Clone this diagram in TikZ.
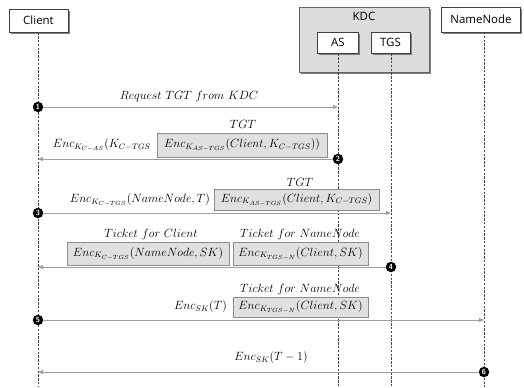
\documentclass[tikz,border=0pt]{standalone}
\usepackage{fontspec}
\newfontfamily\boxfont{Open Sans}
\usetikzlibrary{arrows.meta,shadows}

\definecolor{lineGray}{HTML}{A0A0A0}
\definecolor{lifeGray}{HTML}{454545}
\definecolor{kdcFill}{HTML}{DCDCDC}
\definecolor{tagFill}{HTML}{E0E0E0}
\definecolor{tagLine}{HTML}{8C8C8C}

\tikzset{
  actor/.style={draw=black!75, line width=0.6pt, fill=white, font=\boxfont\fontsize{11.5}{13}\selectfont,
    inner sep=0pt, drop shadow={shadow xshift=1.6bp, shadow yshift=-1.6bp, fill=black!50, opacity=1}},
  kdcbox/.style={draw=black!60, line width=0.6pt, fill=kdcFill, inner sep=0pt,
    drop shadow={shadow xshift=1.6bp, shadow yshift=-1.6bp, fill=black!50, opacity=1}},
  lifeline/.style={draw=lifeGray, dash pattern=on 2.4bp off 1.4bp, line width=0.7pt},
  msg/.style={draw=lineGray, line width=0.8pt, -{Triangle[length=5bp,width=4bp]}},
  marker/.style={circle, fill=black, text=white, inner sep=0pt, minimum size=10.5bp,
    font=\sffamily\bfseries\fontsize{7.5}{8}\selectfont},
  lbl/.style={inner sep=0pt, font=\fontsize{12}{14}\selectfont},
  tag/.style={draw=tagLine, line width=0.6pt, fill=tagFill, inner sep=0pt, font=\fontsize{12}{14}\selectfont},
}

\begin{document}
\begin{tikzpicture}[x=1bp,y=-1bp]
\useasboundingbox (0,0) rectangle (524,387);

% participants
\node[actor, minimum width=59bp, minimum height=23bp] (client) at (38.5,20.5) {Client};
\node[kdcbox, minimum width=130bp, minimum height=65bp] (kdc) at (364,39.5) {};
\node[font=\boxfont\fontsize{11.5}{13}\selectfont, anchor=north] (kdclbl) at (364,8.5) {KDC};
\node[actor, minimum width=41bp, minimum height=21bp] (as) at (338,42.5) {AS};
\node[actor, minimum width=39bp, minimum height=21bp] (tgs) at (390.5,42.5) {TGS};
\node[actor, minimum width=79bp, minimum height=25bp] (nn) at (481,19.5) {NameNode};

% lifelines
\coordinate (clientEnd) at (38,387);
\coordinate (asEnd) at (338,387);
\coordinate (tgsEnd) at (391,387);
\coordinate (nnTop) at (484,32);
\coordinate (nnEnd) at (484,387);
\draw[lifeline] (client.south -| clientEnd) -- (clientEnd);
\draw[lifeline] (as.south) -- (asEnd);
\draw[lifeline] (tgs.south -| tgsEnd) -- (tgsEnd);
\draw[lifeline] (nnTop) -- (nnEnd);

% step markers
\node[marker] (m1) at (38,107) {1};
\node[marker] (m2) at (338,159) {2};
\node[marker] (m3) at (38,213) {3};
\node[marker] (m4) at (391,267) {4};
\node[marker] (m5) at (38,320) {5};
\node[marker] (m6) at (484,372) {6};

\coordinate (e1) at (338,107);
\coordinate (e2) at (38,159);
\coordinate (e3) at (391,213);
\coordinate (e4) at (38,267);
\coordinate (e5) at (484,320);
\coordinate (e6) at (38,372);

% messages
\draw[msg] (m1) -- (e1);
\draw[msg] (m2) -- (e2);
\draw[msg] (m3) -- (e3);
\draw[msg] (m4) -- (e4);
\draw[msg] (m5) -- (e5);
\draw[msg] (m6) -- (e6);

% 1: request
\node[lbl] (t1) at (189,97) {$Request\ TGT\ from\ KDC$};

% 2: reply from AS
\node[lbl, anchor=east] (t2) at (151,145) {$Enc_{K_{C-AS}}(K_{C-TGS}$};
\node[tag, minimum width=170bp, minimum height=24bp] (b2) at (242,145) {$Enc_{K_{AS-TGS}}(Client, K_{C-TGS}))$};
\node[lbl] (h2) at (243,124) {$TGT$};

% 3: request to TGS
\node[lbl, anchor=east] (t3) at (210,200) {$Enc_{K_{C-TGS}}(NameNode, T)$};
\node[tag, minimum width=165bp, minimum height=21bp] (b3) at (296.5,199.5) {$Enc_{K_{AS-TGS}}(Client, K_{C-TGS})$};
\node[lbl] (h3) at (300,182) {$TGT$};

% 4: reply from TGS
\node[tag, minimum width=162bp, minimum height=23bp] (b4a) at (148,253.5) {$Enc_{K_{C-TGS}}(NameNode, SK)$};
\node[tag, minimum width=135bp, minimum height=23bp] (b4b) at (300.5,253.5) {$Enc_{K_{TGS-N}}(Client, SK)$};
\node[lbl] (h4a) at (151,235) {$Ticket\ for\ Client$};
\node[lbl] (h4b) at (300,235) {$Ticket\ for\ NameNode$};

% 5: request to NameNode
\node[lbl, anchor=east] (t5) at (227,307) {$Enc_{SK}(T)$};
\node[tag, minimum width=135bp, minimum height=20bp] (b5) at (300.5,307) {$Enc_{K_{TGS-N}}(Client, SK)$};
\node[lbl] (h5) at (300,290) {$Ticket\ for\ NameNode$};

% 6: reply from NameNode
\node[lbl] (t6) at (271,358) {$Enc_{SK}(T-1)$};
\end{tikzpicture}
\end{document}
